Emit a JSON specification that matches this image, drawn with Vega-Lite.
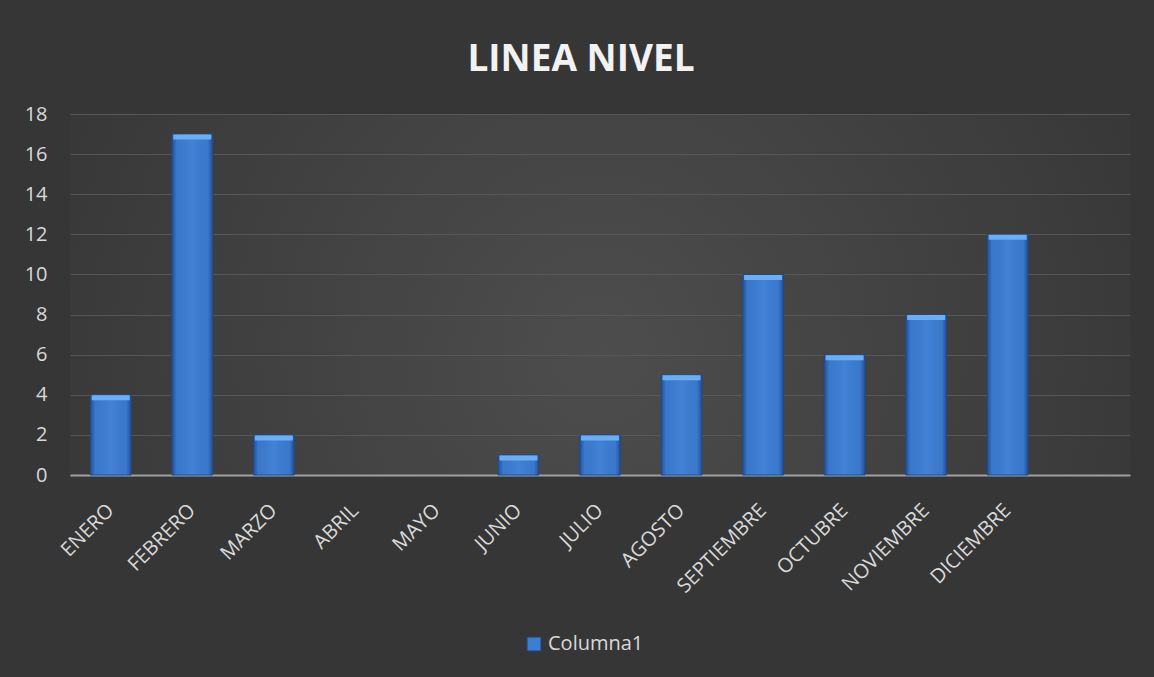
{
  "$schema": "https://vega.github.io/schema/vega-lite/v6.json",
  "width": 1060,
  "height": 361,
  "autosize": {"type": "none"},
  "padding": {"left": 70, "top": 114, "right": 24, "bottom": 202},
  "background": "#363636",
  "title": {
    "text": "LINEA NIVEL",
    "font": "Open Sans",
    "fontSize": 37,
    "fontWeight": "bold",
    "color": "#f2f2f2",
    "anchor": "middle",
    "frame": "group",
    "dx": -19,
    "offset": 25
  },
  "data": {
    "values": [
      {"mes": "ENERO", "valor": 4, "serie": "Columna1"},
      {"mes": "FEBRERO", "valor": 17, "serie": "Columna1"},
      {"mes": "MARZO", "valor": 2, "serie": "Columna1"},
      {"mes": "ABRIL", "valor": 0, "serie": "Columna1"},
      {"mes": "MAYO", "valor": 0, "serie": "Columna1"},
      {"mes": "JUNIO", "valor": 1, "serie": "Columna1"},
      {"mes": "JULIO", "valor": 2, "serie": "Columna1"},
      {"mes": "AGOSTO", "valor": 5, "serie": "Columna1"},
      {"mes": "SEPTIEMBRE", "valor": 10, "serie": "Columna1"},
      {"mes": "OCTUBRE", "valor": 6, "serie": "Columna1"},
      {"mes": "NOVIEMBRE", "valor": 8, "serie": "Columna1"},
      {"mes": "DICIEMBRE", "valor": 12, "serie": "Columna1"}
    ]
  },
  "encoding": {
    "x": {
      "field": "mes",
      "type": "nominal",
      "sort": null,
      "scale": {
        "domain": ["ENERO", "FEBRERO", "MARZO", "ABRIL", "MAYO", "JUNIO", "JULIO", "AGOSTO", "SEPTIEMBRE", "OCTUBRE", "NOVIEMBRE", "DICIEMBRE", " "],
        "paddingInner": 0.5,
        "paddingOuter": 0.25
      },
      "axis": {
        "title": null,
        "labelAngle": -45,
        "labelAlign": "right",
        "labelBaseline": "middle",
        "labelPadding": 32,
        "ticks": false,
        "domainColor": "#a0a0a0",
        "domainWidth": 2,
        "labelColor": "#d9d9d9",
        "labelFont": "Open Sans",
        "labelFontSize": 20,
        "grid": false
      }
    },
    "y": {
      "field": "valor",
      "type": "quantitative",
      "scale": {"domain": [0, 18]},
      "axis": {
        "title": null,
        "values": [0, 2, 4, 6, 8, 10, 12, 14, 16, 18],
        "domain": false,
        "ticks": false,
        "labelPadding": 23,
        "labelColor": "#d9d9d9",
        "labelFont": "Open Sans",
        "labelFontSize": 20,
        "gridColor": "#575757",
        "gridWidth": 1
      }
    }
  },
  "layer": [
    {
      "mark": {"type": "bar"},
      "encoding": {
        "color": {
          "field": "serie",
          "type": "nominal",
          "scale": {"range": ["#3d7dd2"]},
          "legend": {
            "title": null,
            "orient": "none",
            "legendX": 454,
            "legendY": 520,
            "direction": "horizontal",
            "symbolType": "square",
            "symbolSize": 180,
            "symbolStrokeColor": "#2a5aa0",
            "symbolStrokeWidth": 1,
            "labelColor": "#d9d9d9",
            "labelFont": "Open Sans",
            "labelFontSize": 20
          }
        }
      }
    },
    {
      "transform": [{"filter": "datum.valor > 0"}],
      "mark": {
        "type": "bar",
        "fill": {
          "gradient": "linear",
          "x1": 0, "y1": 0, "x2": 1, "y2": 0,
          "stops": [
            {"offset": 0, "color": "rgba(15,40,95,0.55)"},
            {"offset": 0.12, "color": "rgba(15,40,95,0.05)"},
            {"offset": 0.5, "color": "rgba(120,170,240,0.12)"},
            {"offset": 0.88, "color": "rgba(15,40,95,0.05)"},
            {"offset": 1, "color": "rgba(15,40,95,0.55)"}
          ]
        },
        "stroke": "#1f4a8a",
        "strokeWidth": 1
      }
    },
    {
      "transform": [{"filter": "datum.valor > 0"}],
      "mark": {
        "type": "tick",
        "color": "#6aaef5",
        "thickness": 5,
        "size": 38,
        "yOffset": 3,
        "opacity": 1
      }
    }
  ],
  "config": {
    "view": {
      "stroke": null,
      "fill": {
        "gradient": "radial",
        "x1": 0.5, "y1": 0.55, "x2": 0.5, "y2": 0.55,
        "r1": 0, "r2": 0.75,
        "stops": [
          {"offset": 0, "color": "#4d4d4d"},
          {"offset": 1, "color": "#303030"}
        ]
      }
    }
  }
}
